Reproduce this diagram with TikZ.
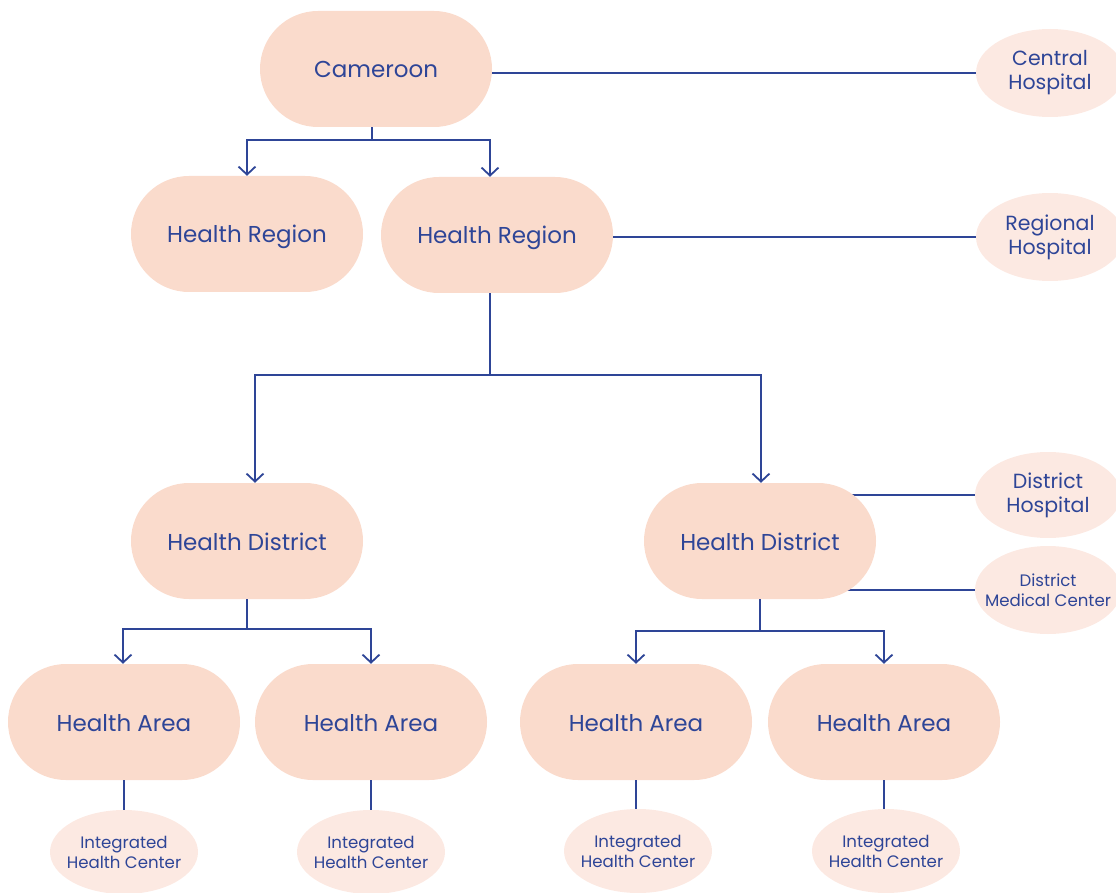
\documentclass[tikz,border=0pt]{standalone}
\usepackage{fontspec}
\setmainfont{Poppins}
\usetikzlibrary{shapes.geometric,arrows.meta,backgrounds}

\definecolor{boxfill}{HTML}{FADBCC}
\definecolor{ovalfill}{HTML}{FCE9E2}
\definecolor{ink}{HTML}{2E4597}

\tikzset{
  unit/.style={draw=none, fill=boxfill, rectangle, rounded corners=58pt,
    minimum width=232pt, minimum height=116pt, inner sep=0pt,
    text height=18pt, text depth=0pt,
    text=ink, font=\fontsize{23}{27}\selectfont},
  facility/.style={draw=none, fill=ovalfill, ellipse, inner sep=0pt,
    minimum width=148pt, minimum height=88pt, align=center,
    text=ink, font=\fontsize{20.5}{24}\selectfont},
  smallfacility/.style={facility, inner xsep=-12pt,
    font=\fontsize{16.6}{20}\selectfont},
  link/.style={draw=ink, line width=1.8pt},
  arr/.style={link, -{Straight Barb[length=8pt,width=17pt,line width=1.8pt]}}
}

\begin{document}
\begin{tikzpicture}[x=1pt, y=-1pt]
\useasboundingbox (0,0) rectangle (1116,893);

% administrative levels
\node[unit] (cam) at (376,69) {Cameroon};
\node[unit] (hr1) at (247,234) {Health Region};
\node[unit] (hr2) at (497,235) {Health Region};
\node[unit] (hd1) at (247,541) {Health District};
\node[unit] (hd2) at (760,541) {Health District};
\node[unit] (ha1) at (124,722) {Health Area};
\node[unit] (ha2) at (371,722) {Health Area};
\node[unit] (ha3) at (636,722) {Health Area};
\node[unit] (ha4) at (884,722) {Health Area};

% health facilities
\node[facility] (ch) at (1050,73) {Central\\Hospital};
\node[facility] (rh) at (1050,237) {Regional\\Hospital};
\node[facility, minimum width=146pt, minimum height=86pt] (dh) at (1048,495) {District\\Hospital};
\node[smallfacility, minimum width=146pt] (dmc) at (1048,590) {District\\Medical Center};
\node[smallfacility, minimum height=84pt] (ihc1) at (124,852) {Integrated\\Health Center};
\node[smallfacility, minimum height=84pt] (ihc2) at (371,852) {Integrated\\Health Center};
\node[smallfacility, minimum height=84pt] (ihc3) at (638,851) {Integrated\\Health Center};
\node[smallfacility, minimum height=84pt] (ihc4) at (886,851) {Integrated\\Health Center};

\begin{scope}[on background layer]
  % facility links, tucked under the unit boxes
  \draw[link] (ch.west) -- (cam.center |- ch.west);
  \draw[link] (rh.west) -- (hr2.center |- rh.west);
  \draw[link] (dh.west) -- (hd2.center |- dh.west);
  \draw[link] (dmc.west) -- (hd2.center |- dmc.west);
\end{scope}

% hierarchy arrows
\draw[arr] ([xshift=-4pt]cam.south) -- ++(0,13) -| (hr1.north);
\draw[arr] ([xshift=-4pt]cam.south) -- ++(0,13) -| ([xshift=-7pt]hr2.north);
\draw[arr] ([xshift=-7pt]hr2.south) -- ++(0,82) -| ([xshift=8pt]hd1.north);
\draw[arr] ([xshift=-7pt]hr2.south) -- ++(0,82) -| ([xshift=1pt]hd2.north);
\draw[arr] (hd1.south) -- ++(0,30) -| ([xshift=-1pt]ha1.north);
\draw[arr] (hd1.south) -- ++(0,30) -| (ha2.north);
\draw[arr] (hd2.south) -- ++(0,32) -| (ha3.north);
\draw[arr] (hd2.south) -- ++(0,32) -| (ha4.north);

% health areas to their centres
\draw[link] (ha1.south) -- (ha1.south |- ihc1.north);
\draw[link] (ha2.south) -- (ha2.south |- ihc2.north);
\draw[link] (ha3.south) -- (ha3.south |- ihc3.north);
\draw[link] (ha4.south) -- (ha4.south |- ihc4.north);
\end{tikzpicture}
\end{document}
